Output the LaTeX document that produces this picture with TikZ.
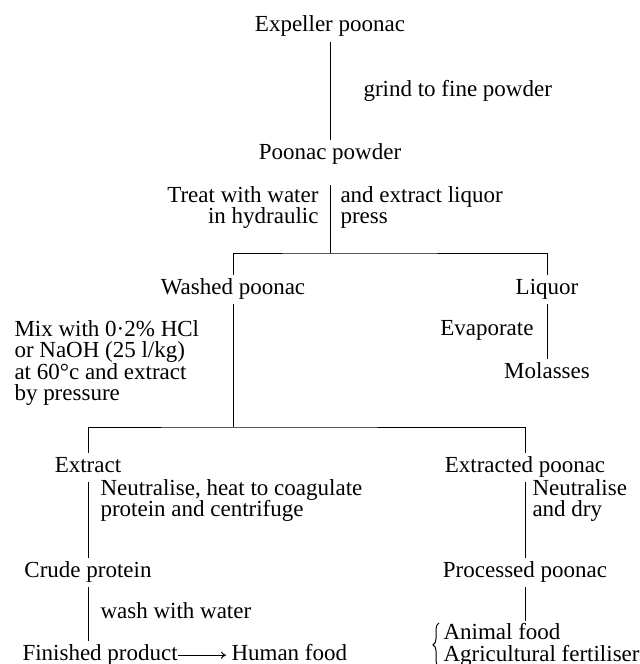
\documentclass[tikz,border=0pt]{standalone}
\usepackage{fontspec}
\setmainfont{Liberation Serif}
\usetikzlibrary{arrows.meta, decorations.pathreplacing}

\begin{document}
\begin{tikzpicture}[x=0.5pt, y=-0.5pt, line width=0.5pt,
    font=\fontsize{11.5}{10.75}\selectfont,
    stage/.style={anchor=base, inner sep=2.5pt, text height=0.7em, text depth=0.22em},
    note/.style={inner sep=0pt, align=left}]

  \useasboundingbox (0,0) rectangle (639,664);

  % Grinding
  \node[stage] (expeller) at (330,32) {Expeller poonac};
  \node[stage] (powder) at (330,159) {Poonac powder};
  \draw (expeller) -- (powder);
  \node[stage, anchor=base west] (grind) at (358,96) {grind to fine powder};

  % Hydraulic press
  \coordinate (press) at (330,253);
  \draw ([yshift=-8pt]powder.south) -- (press);
  \node[note, align=right, anchor=north east] (treat) at (319,186) {Treat with water\\in hydraulic};
  \node[note, anchor=north west] (extractliq) at (340,186) {and extract liquor\\press};

  % Washed poonac and liquor
  \node[stage] (washed) at (233,294) {Washed poonac};
  \node[stage] (liquor) at (547,294) {Liquor};
  \draw (washed) |- (press) -| (liquor);
  \node[stage] (molasses) at (547,378) {Molasses};
  \draw (liquor) -- (molasses);
  \node[stage, anchor=base east] (evap) at (539,335) {Evaporate};

  % Acid or alkali extraction
  \node[note, anchor=north west] (mix) at (14,320) {Mix with 0·2\% HCl\\or NaOH (25 l/kg)\\at 60°c and extract\\by pressure};
  \coordinate (split) at (233,427);
  \draw (washed) -- (split);
  \node[stage] (extract) at (88,472) {Extract};
  \node[stage] (extracted) at (525,472) {Extracted poonac};
  \draw (extract) |- (split) -| (extracted);

  % Protein
  \node[note, anchor=north west] (coag) at (100,479) {Neutralise, heat to coagulate\\protein and centrifuge};
  \node[stage] (crude) at (88,577) {Crude protein};
  \draw (extract) -- (crude);
  \node[stage, anchor=base west] (wash) at (95,618) {wash with water};
  \node[stage, anchor=base west] (finished) at (17,660) {Finished product};
  \draw (crude) -- (crude |- finished.north);
  \node[stage, anchor=base west] (human) at (226,660) {Human food};
  \draw[-{To[length=2.5pt, width=3.5pt]}] ([xshift=-2.5pt]finished.east) -- (human.west);

  % Processed poonac
  \node[note, anchor=north west] (dry) at (532,479) {Neutralise\\and dry};
  \node[stage] (processed) at (525,577) {Processed poonac};
  \draw (extracted) -- (processed);
  \node[note, anchor=north west] (uses) at (443,623) {Animal food\\Agricultural fertiliser};
  \draw (processed) -- ([yshift=1pt]processed |- uses.north);
  \draw[decorate, decoration={brace, amplitude=3pt}] ([xshift=-2pt]uses.south west) -- ([xshift=-2pt]uses.north west);

\end{tikzpicture}
\end{document}
